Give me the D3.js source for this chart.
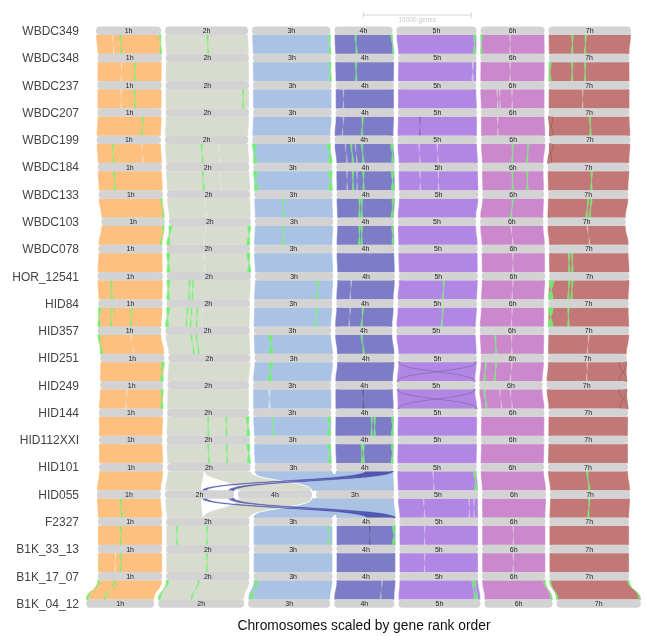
<!DOCTYPE html>
<html>
<head>
<meta charset="utf-8">
<script src="https://cdn.jsdelivr.net/npm/d3@7"></script>
<style>
  body { margin: 0; background: #fff; }
  svg { display: block; font-family: "Liberation Sans", Arial, sans-serif; will-change: transform; }
</style>
</head>
<body>
<svg id="chart" width="646" height="636"></svg>
<script>
// Riparian plot : synténie entre génomes d'orge (ordre des gènes)

const genomes = ["WBDC349", "WBDC348", "WBDC237", "WBDC207", "WBDC199", "WBDC184", "WBDC133",
  "WBDC103", "WBDC078", "HOR_12541", "HID84", "HID357", "HID251", "HID249", "HID144",
  "HID112XXI", "HID101", "HID055", "F2327", "B1K_33_13", "B1K_17_07", "B1K_04_12"];

const chromNames = ["1h", "2h", "3h", "4h", "5h", "6h", "7h"];
const chromColors = ["#FDC07E", "#D8DCCF", "#AAC3E5", "#7C7CC7", "#B286E5", "#CC88CD", "#C37878"];

// nb de gènes par chromosome (1h..7h), une ligne par génome
const chromGenes = [
  [6020, 7690, 7260, 5370, 7410, 5930, 7630],
  [5950, 7690, 7250, 5460, 7250, 5960, 7470],
  [5950, 7720, 7280, 5400, 7250, 5960, 7500],
  [5950, 7720, 7280, 5400, 7310, 5890, 7500],
  [5950, 7720, 7250, 5460, 7350, 5960, 7500],
  [5950, 7720, 7310, 5400, 7350, 5710, 7560],
  [5950, 7720, 7250, 5400, 7350, 5710, 7440],
  [5890, 7590, 7250, 5250, 7250, 5860, 7250],
  [5950, 7720, 7280, 5340, 7350, 5860, 7380],
  [6050, 7780, 7250, 5340, 7310, 5860, 7440],
  [5950, 7720, 7250, 5310, 7350, 5860, 7440],
  [5890, 7810, 7160, 5310, 7350, 5960, 7500],
  [5950, 7590, 7280, 5310, 7250, 5860, 7300],
  [5860, 7560, 7250, 5340, 7250, 5860, 7440],
  [5950, 7590, 7250, 5400, 7350, 5860, 7380],
  [5890, 7720, 7160, 5400, 7350, 5860, 7380],
  [5950, 7720, 7160, 5310, 7350, 5860, 7410],
  [5930, 6390, 7220, 6850, 7410, 5930, 7410],
  [5950, 7720, 7310, 5460, 7280, 5860, 7380],
  [5950, 7720, 7310, 5460, 7280, 5860, 7380],
  [5950, 7720, 7310, 5460, 7280, 5860, 7380],
  [6300, 7950, 7600, 5580, 7600, 6300, 7800]
];

const defaultOrder = ["1h", "2h", "3h", "4h", "5h", "6h", "7h"];
const customOrder = { HID055: ["1h", "2h", "4h", "3h", "5h", "6h", "7h"] };

// paires réarrangées : [paire, chr haut, début, fin, chr bas, début, fin, couleur]
const rearranged = [
  [16, "3h", 0, 1, "3h", -0.3, 1, "3h"],
  [16, "4h", 0, 1, "3h", 0, 1, "3h"],
  [16, "2h", 0, 0.44, "2h", 0, 0.53, "2h"],
  [16, "2h", 0.44, 1, "4h", 0, 1, "2h"],
  [17, "3h", -0.3, 1, "3h", 0, 1, "3h"],
  [17, "3h", 0, 1, "4h", 0, 1, "3h"],
  [17, "2h", 0, 0.53, "2h", 0, 0.44, "2h"],
  [17, "4h", 0, 1, "2h", 0.44, 1, "2h"]
];

// translocations (bandes bleu foncé)
const translocations = [
  [16, "4h", 0.52, 0.80, "2h", 0.54, 0.60],
  [16, "4h", 0.80, 1.00, "2h", 0.92, 1.00],
  [17, "2h", 0.54, 0.60, "4h", 0.52, 0.80],
  [17, "2h", 0.92, 1.00, "4h", 0.80, 1.00]
];

// inversions : [paire, chr, position, largeur, type] (g = vert, w = clair, d = foncé, x = croix)
const inversions = [
  [0,"1h",0.24,0.02,"w"],[0,"1h",0.36,0.02,"g"],[0,"1h",0.97,0.03,"g"],[0,"2h",0.5,0.02,"g"],[0,"3h",0.97,0.03,"g"],[0,"4h",0.35,0.025,"g"],[0,"4h",0.97,0.03,"g"],[0,"5h",0.96,0.03,"g"],[0,"6h",0.45,0.02,"w"],[0,"6h",0,0.03,"g"],[0,"7h",0.28,0.02,"g"],[0,"7h",0.44,0.02,"g"],
  [1,"1h",0.36,0.02,"w"],[1,"1h",0.57,0.025,"g"],[1,"3h",0.97,0.03,"g"],[1,"4h",0.34,0.025,"g"],[1,"5h",0.94,0.03,"w"],[1,"6h",0.45,0.02,"w"],[1,"7h",0.28,0.02,"g"],[1,"7h",0.44,0.02,"g"],[1,"7h",0,0.03,"g"],
  [2,"1h",0.36,0.02,"w"],[2,"1h",0.57,0.025,"g"],[2,"2h",0.92,0.02,"g"],[2,"4h",0.12,0.02,"w"],[2,"6h",0.25,0.02,"w"],[2,"6h",0.29,0.02,"w"],[2,"6h",0.48,0.02,"w"],[2,"7h",0.41,0.02,"w"],
  [3,"1h",0.69,0.02,"g"],[3,"4h",0.12,0.02,"w"],[3,"4h",0.45,0.025,"g"],[3,"5h",0.27,0.015,"d"],[3,"6h",0.25,0.02,"w"],[3,"7h",0.5,0.02,"g"],[3,"7h",0,0.05,"x"],
  [4,"1h",0.24,0.02,"g"],[4,"1h",0.69,0.02,"w"],[4,"2h",0.43,0.02,"g"],[4,"2h",0.64,0.015,"w"],[4,"3h",0,0.05,"g"],[4,"3h",0.95,0.05,"g"],[4,"4h",0.17,0.02,"w"],[4,"4h",0.27,0.02,"g"],[4,"4h",0.34,0.02,"w"],[4,"4h",0.45,0.025,"g"],[4,"4h",0.95,0.04,"g"],[4,"5h",0.26,0.015,"w"],[4,"5h",0.49,0.015,"w"],[4,"6h",0.48,0.02,"g"],[4,"6h",0.72,0.02,"g"],[4,"7h",0,0.05,"x"],
  [5,"1h",0.24,0.02,"g"],[5,"2h",0.43,0.02,"g"],[5,"2h",0.64,0.015,"w"],[5,"3h",0,0.05,"g"],[5,"3h",0.95,0.05,"g"],[5,"4h",0.17,0.02,"w"],[5,"4h",0.27,0.02,"g"],[5,"4h",0.34,0.02,"w"],[5,"4h",0.45,0.025,"g"],[5,"4h",0.94,0.05,"g"],[5,"5h",0.26,0.015,"w"],[5,"5h",0.49,0.015,"w"],[5,"6h",0.48,0.02,"g"],[5,"6h",0.72,0.02,"g"],[5,"7h",0.53,0.02,"g"],
  [6,"1h",0.96,0.025,"g"],[6,"2h",0.45,0.015,"w"],[6,"3h",0.36,0.02,"g"],[6,"4h",0.38,0.02,"g"],[6,"4h",0.42,0.02,"g"],[6,"4h",0.95,0.04,"g"],[6,"6h",0.48,0.02,"g"],[6,"7h",0.49,0.02,"g"],[6,"7h",0.53,0.02,"g"],
  [7,"1h",0.96,0.025,"g"],[7,"2h",0,0.04,"g"],[7,"2h",0.96,0.04,"g"],[7,"2h",0.44,0.015,"w"],[7,"3h",0.36,0.02,"g"],[7,"4h",0.38,0.02,"g"],[7,"4h",0.42,0.02,"g"],[7,"4h",0.96,0.03,"g"],[7,"6h",0.48,0.02,"w"],[7,"7h",0.5,0.015,"w"],
  [8,"2h",0,0.04,"g"],[8,"2h",0.96,0.04,"g"],[8,"2h",0.44,0.015,"w"],[8,"6h",0.48,0.02,"w"],[8,"7h",0.24,0.02,"g"],[8,"7h",0.28,0.02,"g"],
  [9,"1h",0.2,0.025,"g"],[9,"2h",0,0.04,"g"],[9,"2h",0.26,0.02,"g"],[9,"2h",0.3,0.02,"g"],[9,"3h",0.79,0.025,"g"],[9,"4h",0.23,0.02,"w"],[9,"5h",0.56,0.02,"g"],[9,"6h",0.48,0.015,"w"],[9,"7h",0,0.06,"g"],[9,"7h",0.24,0.02,"g"],[9,"7h",0.28,0.02,"g"],
  [10,"1h",0,0.04,"g"],[10,"1h",0.2,0.025,"g"],[10,"1h",0.51,0.02,"g"],[10,"2h",0,0.04,"g"],[10,"2h",0.24,0.015,"g"],[10,"2h",0.29,0.015,"g"],[10,"2h",0.36,0.015,"g"],[10,"2h",0.42,0.015,"w"],[10,"3h",0.79,0.025,"g"],[10,"4h",0.23,0.02,"w"],[10,"4h",0.45,0.025,"g"],[10,"5h",0.56,0.02,"g"],[10,"6h",0.48,0.015,"w"],[10,"7h",0,0.06,"g"],[10,"7h",0.24,0.02,"g"],
  [11,"1h",0,0.04,"g"],[11,"1h",0.51,0.02,"w"],[11,"2h",0.3,0.015,"g"],[11,"2h",0.36,0.015,"g"],[11,"3h",0.19,0.05,"g"],[11,"4h",0.45,0.025,"g"],[11,"6h",0.23,0.025,"g"],[11,"6h",0.48,0.015,"w"],[11,"7h",0.49,0.015,"w"],
  [12,"1h",0.95,0.05,"g"],[12,"3h",0.19,0.05,"g"],[12,"5h",0,1,"x"],[12,"6h",0.07,0.02,"g"],[12,"6h",0.23,0.02,"g"],[12,"6h",0.48,0.015,"w"],[12,"7h",0.9,0.1,"x"],[12,"7h",0.49,0.015,"w"],
  [13,"1h",0.41,0.02,"w"],[13,"1h",0.96,0.04,"g"],[13,"3h",0.19,0.04,"w"],[13,"4h",0.47,0.015,"d"],[13,"5h",0,1,"x"],[13,"6h",0.07,0.02,"g"],[13,"6h",0.31,0.02,"w"],[13,"6h",0.48,0.015,"w"],[13,"7h",0.9,0.1,"x"],
  [14,"2h",0.49,0.02,"g"],[14,"2h",0.71,0.02,"g"],[14,"2h",0.96,0.04,"g"],[14,"3h",0.24,0.02,"g"],[14,"3h",0.95,0.04,"g"],[14,"4h",0.61,0.02,"g"],[14,"4h",0.66,0.02,"g"],[14,"4h",0.96,0.04,"g"],
  [15,"2h",0.49,0.02,"g"],[15,"2h",0.71,0.02,"g"],[15,"2h",0.96,0.04,"g"],[15,"3h",0.95,0.04,"g"],[15,"4h",0.44,0.02,"g"],[15,"4h",0.47,0.02,"g"],[15,"4h",0.96,0.04,"g"],
  [16,"5h",0.44,0.015,"w"],[16,"5h",0.96,0.03,"g"],[16,"7h",0.48,0.02,"g"],
  [17,"1h",0.36,0.02,"g"],[17,"5h",0.31,0.015,"w"],[17,"5h",0.88,0.015,"w"],[17,"5h",0.94,0.015,"w"],[17,"7h",0.48,0.02,"g"],
  [18,"1h",0.34,0.02,"g"],[18,"2h",0.12,0.02,"g"],[18,"2h",0.48,0.02,"g"],[18,"3h",0.94,0.02,"g"],[18,"4h",0.55,0.015,"d"],[18,"4h",0.95,0.05,"g"],[18,"5h",0.31,0.015,"w"],[18,"6h",0.48,0.015,"w"],
  [19,"1h",0.26,0.02,"w"],[19,"1h",0.34,0.02,"g"],[19,"2h",0.48,0.02,"g"],[19,"5h",0.31,0.015,"w"],[19,"6h",0.48,0.015,"w"],
  [20,"1h",0,0.03,"g"],[20,"1h",0.26,0.02,"g"],[20,"2h",0,0.03,"g"],[20,"2h",0.38,0.02,"g"],[20,"3h",0.02,0.04,"g"],[20,"4h",0.76,0.015,"w"],[20,"5h",0.92,0.02,"g"],[20,"5h",0.95,0.02,"g"],[20,"6h",0.97,0.03,"g"],[20,"7h",0,0.02,"g"],[20,"7h",0.98,0.02,"g"]
];

const scaleBarGenes = 10000;

// --- échelles ---
const svg = d3.select("#chart");
const x = d3.scaleLinear().domain([0, scaleBarGenes]).range([0, 108]);
const y = d3.scalePoint().domain(genomes).range([30.7, 603.6]);
const color = d3.scaleOrdinal().domain(chromNames).range(chromColors);
const GAP = 4, CX = 363.5, BAR_H = 8.5;

// positions des chromosomes pour chaque génome
const layout = genomes.map((g, i) => {
  const order = customOrder[g] || defaultOrder;
  const total = d3.sum(chromGenes[i], v => x(v)) + GAP * (order.length - 1);
  let cur = CX - total / 2;
  const pos = {};
  order.forEach(c => {
    const w = x(chromGenes[i][chromNames.indexOf(c)]);
    pos[c] = [cur, cur + w];
    cur += w + GAP;
  });
  return pos;
});

function ribbonPath(a0, a1, b0, b1, y0, y1) {
  const ym = (y0 + y1) / 2;
  return `M${a0},${y0}C${a0},${ym} ${b0},${ym} ${b0},${y1}L${b1},${y1}C${b1},${ym} ${a1},${ym} ${a1},${y0}Z`;
}
const frac = (r, f) => r[0] + (r[1] - r[0]) * f;
const pairY = p => [y(genomes[p]) + BAR_H / 2 - 0.5, y(genomes[p + 1]) - BAR_H / 2 + 0.5];

const ribbonsG = svg.append("g");
const specialPairs = new Set(rearranged.map(d => d[0]));

// rubans principaux
d3.range(genomes.length - 1).forEach(p => {
  const [y0, y1] = pairY(p);
  const up = layout[p], lo = layout[p + 1];
  chromNames.forEach(c => {
    if (specialPairs.has(p) && ["2h", "3h", "4h"].includes(c)) return;
    ribbonsG.append("path")
      .attr("d", ribbonPath(up[c][0], up[c][1], lo[c][0], lo[c][1], y0, y1))
      .attr("fill", color(c)).attr("stroke", "#fff").attr("stroke-width", 0.4);
  });
});

// réarrangements HID055
rearranged.forEach(([p, c1, a, b, c2, e, f, col]) => {
  const [y0, y1] = pairY(p);
  const u = layout[p][c1], l = layout[p + 1][c2];
  ribbonsG.append("path")
    .attr("d", ribbonPath(frac(u, a), frac(u, b), frac(l, e), frac(l, f), y0, y1))
    .attr("fill", color(col))
    .attr("stroke", col === "2h" ? "#fff" : "none").attr("stroke-width", 0.9);
});

// inversions
inversions.forEach(([p, c, pos, w, kind]) => {
  const [y0, y1] = pairY(p);
  const u = layout[p][c], l = layout[p + 1][c];
  const uw = Math.max(w * (u[1] - u[0]), 1.6), lw = Math.max(w * (l[1] - l[0]), 1.6);
  const ua = Math.min(frac(u, pos), u[1] - uw), la = Math.min(frac(l, pos), l[1] - lw);
  const d = ribbonPath(ua, ua + uw, la + lw, la, y0, y1);
  const path = ribbonsG.append("path").attr("d", d);
  if (kind === "g") path.attr("fill", "#6BF06B").attr("fill-opacity", 0.9).attr("stroke", "#8CF58C").attr("stroke-width", 0.4);
  else if (kind === "w") path.attr("fill", "#EEF3EE").attr("fill-opacity", 0.5).attr("stroke", "none");
  else if (kind === "d") path.attr("fill", d3.color(color(c)).darker(0.9)).attr("fill-opacity", 0.8).attr("stroke", "none");
  else path.attr("fill", "none").attr("stroke", d3.color(color(c)).darker(0.8)).attr("stroke-width", 0.7);
});

// translocations
translocations.forEach(([p, c1, a, b, c2, e, f]) => {
  const [y0, y1] = pairY(p);
  const u = layout[p][c1], l = layout[p + 1][c2];
  ribbonsG.append("path")
    .attr("d", ribbonPath(frac(u, a), frac(u, b), frac(l, e), frac(l, f), y0, y1))
    .attr("fill", "#2A2A96").attr("fill-opacity", 0.7).attr("stroke", "#4a4ab0").attr("stroke-width", 0.4);
});

// barres des chromosomes
const barsG = svg.append("g");
genomes.forEach((g, i) => {
  const yc = y(g);
  Object.entries(layout[i]).forEach(([c, r]) => {
    barsG.append("rect")
      .attr("x", r[0]).attr("y", yc - BAR_H / 2)
      .attr("width", r[1] - r[0]).attr("height", BAR_H)
      .attr("rx", 4).attr("fill", "#D3D3D3");
    barsG.append("text")
      .attr("x", (r[0] + r[1]) / 2).attr("y", yc + 2.5)
      .attr("text-anchor", "middle").attr("font-size", 7).attr("fill", "#222")
      .text(c);
  });
  svg.append("text")
    .attr("x", 79).attr("y", yc + 4.3)
    .attr("text-anchor", "end").attr("font-size", 12).attr("fill", "#444")
    .text(g);
});

// barre d'échelle
const sb0 = 363.3, sb1 = sb0 + x(scaleBarGenes), sby = 15;
const sbG = svg.append("g").attr("stroke", "#D6D6D6").attr("stroke-width", 1);
sbG.append("line").attr("x1", sb0).attr("x2", sb1).attr("y1", sby).attr("y2", sby);
sbG.append("line").attr("x1", sb0).attr("x2", sb0).attr("y1", sby - 3).attr("y2", sby + 3);
sbG.append("line").attr("x1", sb1).attr("x2", sb1).attr("y1", sby - 3).attr("y2", sby + 3);
svg.append("text").attr("x", (sb0 + sb1) / 2).attr("y", 21.5)
  .attr("text-anchor", "middle").attr("font-size", 6.5).attr("fill", "#C8C8C8")
  .text(d3.format("d")(scaleBarGenes) + " genes");

// titre
svg.append("text").attr("x", 364).attr("y", 630)
  .attr("text-anchor", "middle").attr("font-size", 13.8).attr("fill", "#111")
  .text("Chromosomes scaled by gene rank order");
</script>
</body>
</html>
